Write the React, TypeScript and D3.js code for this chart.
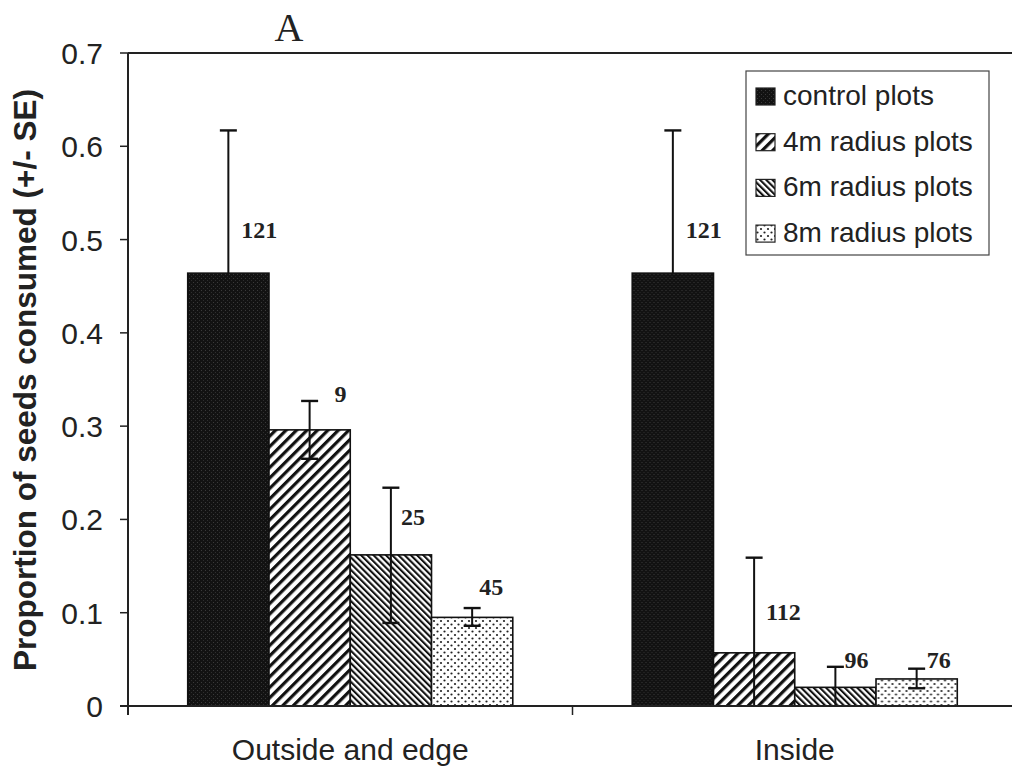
import React from "react";
import * as d3 from "d3";

const categories = ["Outside and edge", "Inside"];
const series = ["control plots", "4m radius plots", "6m radius plots", "8m radius plots"];
// mean proportion consumed, per category, per series
const means = [
  [0.464, 0.296, 0.162, 0.095],
  [0.464, 0.057, 0.020, 0.029],
];
const errHigh = [
  [0.617, 0.327, 0.234, 0.105],
  [0.617, 0.159, 0.042, 0.040],
];
const errLow = [
  [0.311, 0.265, 0.089, 0.086],
  [0.311, 0, 0, 0.019],
];
const sampleSizes = [
  ["121", "9", "25", "45"],
  ["121", "112", "96", "76"],
];
// value (in y units) at which each sample-size label sits
const labelAt = [
  [0.502, 0.326, 0.194, 0.119],
  [0.502, 0.092, 0.041, 0.041],
];
const yTicks = [0, 0.1, 0.2, 0.3, 0.4, 0.5, 0.6, 0.7];

const W = 1012;
const H = 774;
const left = 128;
const right = 1017;
const top = 53;
const bottom = 706;

const fills = ["url(#pCtrl)", "url(#p4m)", "url(#p6m)", "url(#p8m)"];
const labelDx = [13, 25, 10, 7];
const labelDxInside = [13, 12, 9, 10];

export default function App() {
  const y = d3.scaleLinear().domain([0, 0.7]).range([bottom, top]);
  const x0 = d3.scaleBand<string>().domain(categories).range([left, right]).paddingInner(0).paddingOuter(0);
  const x1 = d3
    .scaleBand<string>()
    .domain(series)
    .range([0, x0.bandwidth()])
    .paddingInner(0)
    .paddingOuter(0.735);
  const bw = x1.bandwidth();
  const sans = "'Liberation Sans', Arial, sans-serif";
  const serif = "'Liberation Serif', 'Times New Roman', serif";

  const errorBar = (ci: number, si: number) => {
    const c = categories[ci];
    const s = series[si];
    const cx = (x0(c) as number) + (x1(s) as number) + bw / 2;
    const hi = y(errHigh[ci][si]);
    const lo = y(errLow[ci][si]);
    return (
      <g key={"e" + c + s} stroke="#111" strokeWidth={2}>
        <line x1={cx} x2={cx} y1={hi} y2={lo} />
        <line x1={cx - 8.5} x2={cx + 8.5} y1={hi} y2={hi} strokeWidth={2.4} />
        {errLow[ci][si] > 0 && <line x1={cx - 8.5} x2={cx + 8.5} y1={lo} y2={lo} strokeWidth={2.4} />}
      </g>
    );
  };

  return (
    <svg width={W} height={H} style={{ position: "absolute", left: 0, top: 0, background: "#fff" }}>
      <defs>
        <pattern id="pCtrl" patternUnits="userSpaceOnUse" width={4} height={4}>
          <rect width={4} height={4} fill="#121212" />
          <rect x={1} y={2} width={1} height={1} fill="#3a3a3a" />
          <rect x={3} y={0} width={1} height={1} fill="#2e2e2e" />
        </pattern>
        <pattern id="p4m" patternUnits="userSpaceOnUse" width={7.4} height={7.4} patternTransform="rotate(45)">
          <rect width={7.4} height={7.4} fill="#fff" />
          <rect x={0} y={0} width={3.2} height={7.4} fill="#111" />
        </pattern>
        <pattern id="p6m" patternUnits="userSpaceOnUse" width={4.4} height={4.4} patternTransform="rotate(-45)">
          <rect width={4.4} height={4.4} fill="#fff" />
          <rect x={0} y={0} width={2.1} height={4.4} fill="#111" />
        </pattern>
        <pattern id="p8m" patternUnits="userSpaceOnUse" width={7} height={7}>
          <rect width={7} height={7} fill="#fff" />
          <circle cx={1.5} cy={1.5} r={1.1} fill="#222" />
          <circle cx={5} cy={5} r={1.1} fill="#222" />
        </pattern>
      </defs>

      {/* title */}
      <text x={289} y={41} fontFamily={serif} fontSize={40} textAnchor="middle" fill="#222">A</text>

      {/* control error bars sit behind their dark bars */}
      {categories.map((c, ci) => errorBar(ci, 0))}

      {/* bars */}
      {categories.map((c, ci) => (
        <g key={c} transform={`translate(${x0(c)},0)`}>
          {series.map((s, si) => (
            <rect
              key={s}
              x={x1(s)}
              y={y(means[ci][si])}
              width={bw}
              height={y(0) - y(means[ci][si])}
              fill={fills[si]}
              stroke="#111"
              strokeWidth={1.6}
            />
          ))}
        </g>
      ))}

      {/* other error bars drawn over the patterned bars */}
      {categories.map((c, ci) => series.map((s, si) => (si > 0 ? errorBar(ci, si) : null)))}

      {/* sample size labels */}
      {categories.map((c, ci) =>
        series.map((s, si) => {
          const cx = (x0(c) as number) + (x1(s) as number) + bw / 2;
          const dx = ci === 0 ? labelDx[si] : labelDxInside[si];
          return (
            <text
              key={"l" + c + s}
              x={cx + dx}
              y={y(labelAt[ci][si])}
              fontFamily={serif}
              fontWeight="bold"
              fontSize={24}
              fill="#222"
            >
              {sampleSizes[ci][si]}
            </text>
          );
        })
      )}

      {/* axes */}
      <line x1={left} x2={W} y1={top} y2={top} stroke="#222" strokeWidth={2} />
      <line x1={left} x2={left} y1={top} y2={bottom + 9} stroke="#222" strokeWidth={2} />
      <line x1={left - 8} x2={W} y1={bottom} y2={bottom} stroke="#222" strokeWidth={2} />
      {yTicks.map((t) => (
        <g key={t}>
          <line x1={left - 8} x2={left} y1={y(t)} y2={y(t)} stroke="#222" strokeWidth={1.5} />
          <text x={103} y={y(t) + 11} textAnchor="end" fontFamily={sans} fontSize={30} fill="#222">
            {t === 0 ? "0" : d3.format(".1f")(t)}
          </text>
        </g>
      ))}
      {categories.map((c, ci) => (
        <g key={"x" + c}>
          {ci > 0 && (
            <line x1={x0(c)} x2={x0(c)} y1={bottom} y2={bottom + 9} stroke="#222" strokeWidth={1.5} />
          )}
          <text
            x={(x0(c) as number) + x0.bandwidth() / 2}
            y={760}
            textAnchor="middle"
            fontFamily={sans}
            fontSize={30}
            fill="#222"
          >
            {c}
          </text>
        </g>
      ))}

      {/* y label */}
      <text
        transform={`translate(36,380) rotate(-90)`}
        textAnchor="middle"
        fontFamily={sans}
        fontWeight="bold"
        fontSize={31.5}
        fill="#222"
      >
        Proportion of seeds consumed (+/- SE)
      </text>

      {/* legend */}
      <rect x={746} y={71} width={243} height={184} fill="#fff" stroke="#444" strokeWidth={1.2} />
      {series.map((s, si) => {
        const by = 105 + si * 45.7;
        return (
          <g key={"lg" + s}>
            <rect x={756} y={by - 17} width={19} height={17} fill={fills[si]} stroke="#222" strokeWidth={1.2} />
            <text x={783} y={by} fontFamily={sans} fontSize={28} fill="#222">
              {s}
            </text>
          </g>
        );
      })}
    </svg>
  );
}
